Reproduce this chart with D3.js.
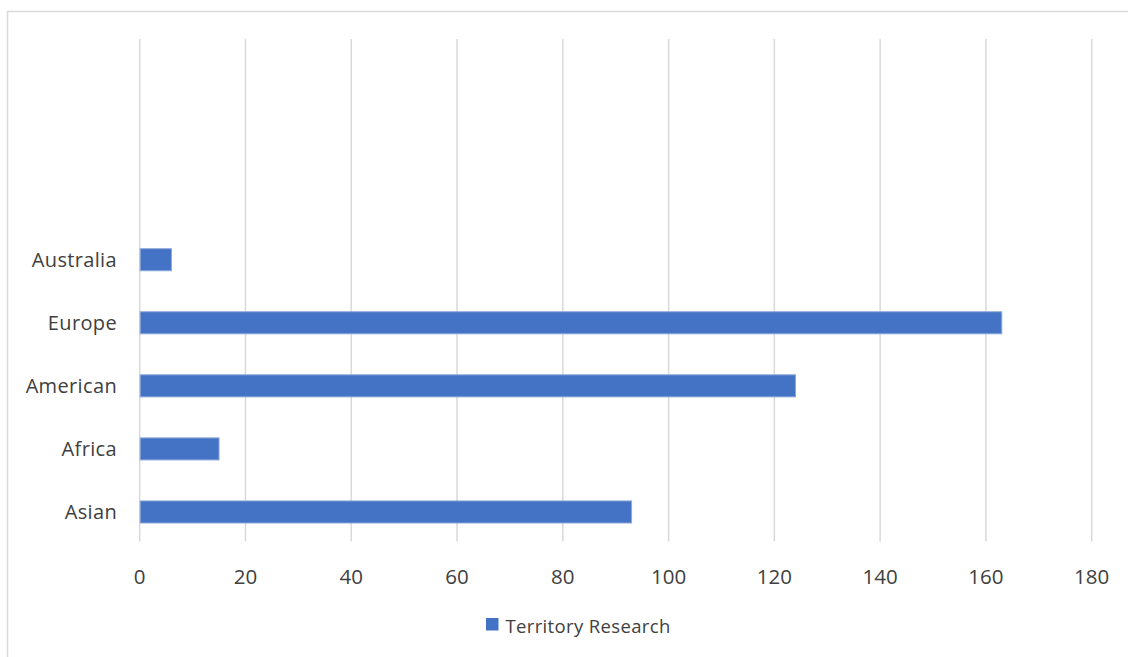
<!DOCTYPE html>
<html>
<head>
<meta charset="utf-8">
<script src="https://cdn.jsdelivr.net/npm/d3@7/dist/d3.min.js"></script>
<style>
  html, body { margin: 0; padding: 0; background: #fff; }
  svg { display: block; font-family: "Open Sans", sans-serif; }
</style>
</head>
<body>
<svg id="chart" width="1128" height="657"></svg>
<script>
// categories bottom to top, empty slots above as in the original sheet
var categories = ["Asian", "Africa", "American", "Europe", "Australia", "", " ", "  "];
var values = [93, 15, 124, 163, 6, null, null, null];
var xTicks = [0, 20, 40, 60, 80, 100, 120, 140, 160, 180];
var seriesName = "Territory Research";

var width = 1128, height = 657;
var plot = { left: 139.7, right: 1091.7, top: 39, bottom: 543.5 };

var svg = d3.select("#chart");

// outer chart border (runs off the right and bottom edges)
svg.append("rect")
    .attr("x", 7.5).attr("y", 11.5)
    .attr("width", 1300).attr("height", 800)
    .attr("fill", "none")
    .attr("stroke", "#d9d9d9")
    .attr("stroke-width", 1.5);

var x = d3.scaleLinear().domain([0, 180]).range([plot.left, plot.right]);
var y = d3.scaleBand().domain(categories.slice().reverse())
    .range([plot.top, plot.bottom]).paddingInner(0.65).paddingOuter(0.325);

// vertical gridlines
svg.append("g").selectAll("line").data(xTicks).enter().append("line")
    .attr("x1", function (d) { return x(d); })
    .attr("x2", function (d) { return x(d); })
    .attr("y1", plot.top).attr("y2", plot.bottom - 2)
    .attr("stroke", "#d9d9d9").attr("stroke-width", 1.5);

// bars
var rows = categories.map(function (c, i) { return { cat: c, val: values[i] }; })
    .filter(function (d) { return d.val != null; });

svg.append("g").selectAll("rect").data(rows).enter().append("rect")
    .attr("x", x(0) + 0.5)
    .attr("y", function (d) { return y(d.cat); })
    .attr("width", function (d) { return x(d.val) - x(0) - 0.5; })
    .attr("height", y.bandwidth())
    .attr("fill", "#4472c4")
    .attr("stroke", "#8eaadb")
    .attr("stroke-width", 1);

// category labels
svg.append("g").selectAll("text").data(rows).enter().append("text")
    .attr("x", 117)
    .attr("y", function (d) { return y(d.cat) + y.bandwidth() / 2; })
    .attr("dy", "0.35em")
    .attr("text-anchor", "end")
    .attr("font-size", 20)
    .attr("letter-spacing", 0.35)
    .attr("fill", "#404040")
    .text(function (d) { return d.cat; });

// x tick labels
svg.append("g").selectAll("text").data(xTicks).enter().append("text")
    .attr("x", function (d) { return x(d); })
    .attr("y", 577)
    .attr("dy", "0.35em")
    .attr("text-anchor", "middle")
    .attr("font-size", 20.5)
    .attr("fill", "#404040")
    .text(function (d) { return d; });

// legend
var legend = svg.append("g").attr("transform", "translate(486,618)");
legend.append("rect")
    .attr("width", 12.5).attr("height", 12.5)
    .attr("fill", "#4472c4");
legend.append("text")
    .attr("x", 19.5).attr("y", 8.5)
    .attr("dy", "0.35em")
    .attr("font-size", 18.5)
    .attr("letter-spacing", 0.35)
    .attr("fill", "#404040")
    .text(seriesName);
</script>
</body>
</html>
